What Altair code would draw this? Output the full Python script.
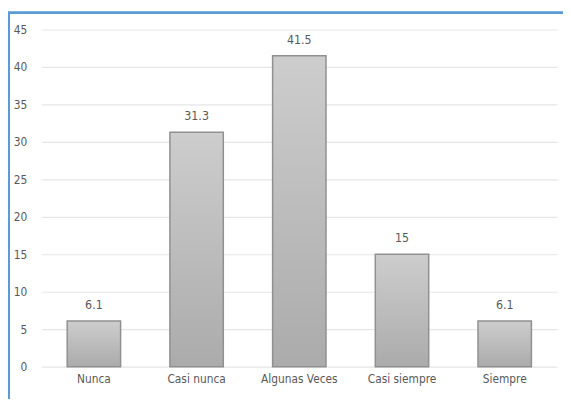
import altair as alt
import pandas as pd

categories = ["Nunca", "Casi nunca", "Algunas Veces", "Casi siempre", "Siempre"]
values = [6.1, 31.3, 41.5, 15, 6.1]
labels = ["6.1", "31.3", "41.5", "15", "6.1"]

df = pd.DataFrame({"cat": categories, "val": values, "lab": labels})

FONT = "DejaVu Sans Condensed, Liberation Sans Narrow, Liberation Sans, sans-serif"
GRAY = "#595959"

x = alt.X("cat:N", sort=categories, title=None,
          scale=alt.Scale(paddingInner=0.48, paddingOuter=0.25),
          axis=alt.Axis(labelAngle=0, domain=False, ticks=False, labelPadding=7,
                        labelFont=FONT, labelFontSize=12, labelColor=GRAY))
y = alt.Y("val:Q", title=None,
          scale=alt.Scale(domain=[0, 45], nice=False),
          axis=alt.Axis(values=[0, 5, 10, 15, 20, 25, 30, 35, 40, 45], domain=False, ticks=False,
                        labelPadding=15, labelFont=FONT, labelFontSize=12,
                        labelColor=GRAY, gridColor="#e6e6e6", gridWidth=1.2))

base = alt.Chart(df).encode(x=x, y=y)

bars = base.mark_bar(
    color=alt.LinearGradient(gradient="linear", x1=0, y1=0, x2=0, y2=1,
                             stops=[alt.GradientStop(color="#cdcdcd", offset=0),
                                    alt.GradientStop(color="#ababab", offset=1)]),
    stroke="#909090", strokeWidth=1.5
)

text = base.mark_text(dy=-16, font=FONT, fontSize=12.5, color=GRAY).encode(text="lab:N")

border = alt.Chart(df).mark_rect(fill=None, stroke="#5b9bd5", strokeWidth=2).encode(
    x=alt.value(-33), x2=alt.value(560), y=alt.value(-17), y2=alt.value(400))

chart = alt.layer(border, bars, text).properties(
    width=523, height=342,
    autosize=alt.AutoSizeParams(type="none"),
    padding={"left": 34, "top": 19, "right": 6, "bottom": 30},
).configure_view(stroke=None)

chart.save("out.html", embed_options={"renderer": "svg", "actions": False})
